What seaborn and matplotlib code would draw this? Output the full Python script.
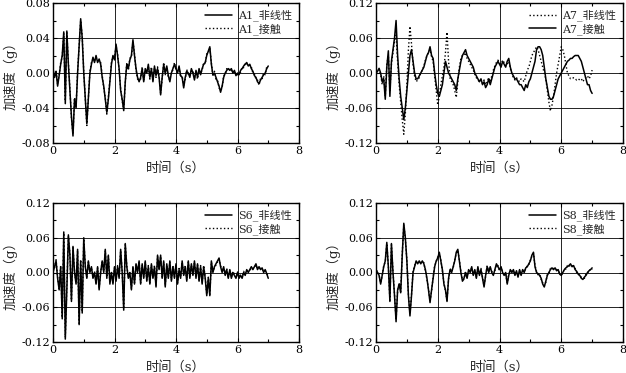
import numpy as np
import pandas as pd
import matplotlib
matplotlib.use("Agg")
import matplotlib.pyplot as plt
import seaborn as sns
from matplotlib.ticker import MultipleLocator, FormatStrFormatter

DT = 0.05

A1_nl = [0.005, -0.005, 0.002, -0.015, -0.003, 0.010, 0.020, 0.047, -0.035, 0.048,
         0.010, -0.020, -0.050, -0.072, -0.030, -0.040, 0.000, 0.030, 0.062, 0.040,
         0.000, -0.030, -0.058, -0.030, 0.000, 0.010, 0.018, 0.012, 0.020, 0.012,
         0.016, 0.010, -0.005, -0.015, -0.030, -0.045, -0.030, -0.010, 0.010, 0.020,
         0.015, 0.033, 0.020, 0.005, -0.020, -0.030, -0.043, -0.010, 0.010, 0.005,
         0.015, 0.020, 0.038, 0.020, 0.005, -0.005, -0.010, -0.005, 0.005, -0.010,
         0.005, 0.000, 0.010, -0.005, 0.005, -0.010, 0.008, -0.003, 0.005, -0.005,
         -0.025, -0.005, 0.010, 0.000, 0.008, -0.003, -0.010, 0.000, 0.005, 0.010,
         0.005, 0.000, 0.008, -0.003, -0.005, -0.017, -0.005, 0.002, 0.000, -0.005,
         0.005, 0.000, -0.008, 0.003, -0.005, 0.005, -0.002, 0.005, 0.010, 0.012,
         0.020, 0.025, 0.030, 0.010, -0.002, 0.000, -0.005, -0.010, -0.015, -0.022,
         -0.015, -0.005, 0.000, 0.003, 0.005, 0.003, 0.005, 0.000, 0.003, -0.003,
         0.000, -0.002, 0.003, 0.005, 0.008, 0.010, 0.012, 0.008, 0.010, 0.005,
         0.002, -0.003, -0.005, -0.010, -0.012, -0.008, -0.005, -0.002, 0.000, 0.005,
         0.008]
A1_ct = [0.004, -0.006, 0.003, -0.013, -0.002, 0.012, 0.018, 0.045, -0.032, 0.046,
         0.012, -0.018, -0.052, -0.070, -0.028, -0.038, 0.002, 0.032, 0.060, 0.042,
         0.002, -0.028, -0.060, -0.028, 0.002, 0.012, 0.016, 0.014, 0.018, 0.014,
         0.014, 0.012, -0.003, -0.017, -0.028, -0.047, -0.028, -0.008, 0.012, 0.018,
         0.017, 0.031, 0.022, 0.003, -0.018, -0.032, -0.041, -0.012, 0.012, 0.003,
         0.017, 0.018, 0.036, 0.022, 0.003, -0.007, -0.008, -0.007, 0.007, -0.008,
         0.003, 0.002, 0.008, -0.007, 0.007, -0.008, 0.006, -0.005, 0.007, -0.003,
         -0.023, -0.007, 0.012, -0.002, 0.006, -0.005, -0.008, 0.002, 0.003, 0.012,
         0.003, 0.002, 0.006, -0.005, -0.003, -0.015, -0.007, 0.004, -0.002, -0.003,
         0.003, 0.002, -0.006, 0.001, -0.007, 0.003, 0.000, 0.003, 0.012, 0.010,
         0.022, 0.023, 0.028, 0.012, -0.004, 0.002, -0.007, -0.008, -0.017, -0.020,
         -0.017, -0.003, -0.002, 0.005, 0.003, 0.005, 0.003, 0.002, 0.001, -0.001,
         -0.002, 0.000, 0.001, 0.007, 0.006, 0.012, 0.010, 0.010, 0.008, 0.007,
         0.000, -0.001, -0.007, -0.008, -0.014, -0.006, -0.007, 0.000, -0.002, 0.007,
         0.006]

A7_nl = [0.000, 0.003, 0.006, -0.002, -0.020, -0.005, -0.040, 0.015, 0.030, -0.030,
         0.015, 0.035, 0.055, 0.065, 0.020, -0.020, -0.050, -0.080, -0.105, -0.070,
         -0.020, 0.040, 0.080, 0.050, 0.015, -0.005, -0.015, -0.012, -0.008, 0.000,
         0.005, 0.012, 0.022, 0.030, 0.035, 0.040, 0.028, 0.020, -0.005, -0.030,
         -0.055, -0.040, -0.020, -0.005, 0.010, 0.035, 0.070, 0.020, -0.010, -0.015,
         -0.020, -0.030, -0.042, -0.015, 0.010, 0.025, 0.030, 0.030, 0.035, 0.025,
         0.020, 0.015, 0.010, 0.005, -0.002, -0.008, -0.012, -0.015, -0.012, -0.018,
         -0.012, -0.020, -0.015, -0.008, -0.015, -0.005, 0.005, 0.012, 0.018, 0.022,
         0.018, 0.012, 0.022, 0.018, 0.012, 0.015, 0.020, 0.008, -0.002, -0.008,
         -0.012, -0.008, -0.012, -0.015, -0.010, -0.012, -0.015, -0.005, 0.005, 0.010,
         0.020, 0.030, 0.035, 0.040, 0.045, 0.040, 0.030, 0.020, 0.010, 0.000,
         -0.010, -0.030, -0.050, -0.065, -0.055, -0.040, -0.020, 0.000, 0.015, 0.030,
         0.045, 0.040, 0.030, 0.015, 0.000, -0.005, -0.010, -0.010, -0.008, -0.010,
         -0.012, -0.010, -0.012, -0.010, -0.015, -0.010, -0.008, -0.005, -0.010, -0.005,
         0.005]
A7_ct = [0.000, 0.003, 0.008, 0.000, -0.015, -0.010, -0.045, 0.010, 0.038, -0.040,
         0.020, 0.040, 0.060, 0.090, 0.030, -0.010, -0.040, -0.060, -0.080, -0.060,
         -0.030, 0.000, 0.030, 0.040, 0.020, 0.000, -0.010, -0.010, -0.005, 0.000,
         0.005, 0.010, 0.020, 0.030, 0.035, 0.045, 0.030, 0.025, 0.000, -0.020,
         -0.035, -0.040, -0.030, -0.020, 0.000, 0.020, 0.010, 0.000, -0.005, -0.010,
         -0.015, -0.020, -0.030, -0.010, 0.005, 0.020, 0.030, 0.035, 0.040, 0.030,
         0.025, 0.020, 0.015, 0.010, 0.000, -0.005, -0.010, -0.015, -0.010, -0.020,
         -0.015, -0.025, -0.020, -0.010, -0.020, -0.010, 0.000, 0.010, 0.015, 0.020,
         0.015, 0.010, 0.020, 0.015, 0.010, 0.020, 0.025, 0.010, 0.000, -0.005,
         -0.010, -0.010, -0.015, -0.020, -0.020, -0.025, -0.030, -0.020, -0.025, -0.015,
         -0.010, 0.000, 0.010, 0.020, 0.040, 0.045, 0.045, 0.040, 0.030, 0.010,
         -0.010, -0.025, -0.040, -0.045, -0.045, -0.040, -0.030, -0.020, -0.010, -0.005,
         0.000, 0.005, 0.010, 0.015, 0.020, 0.022, 0.025, 0.025, 0.028, 0.030,
         0.030, 0.030, 0.025, 0.020, 0.010, 0.000, -0.010, -0.020, -0.020, -0.030,
         -0.035]

S6_nl = [0.000, 0.010, 0.020, -0.010, -0.030, 0.010, -0.080, 0.070, -0.115, -0.030,
         0.065, 0.030, -0.050, 0.045, 0.000, -0.020, 0.040, -0.090, 0.020, -0.070,
         0.060, 0.010, -0.010, 0.020, 0.000, 0.010, -0.010, 0.000, -0.020, 0.010,
         -0.030, 0.000, 0.020, 0.000, 0.040, -0.010, 0.030, -0.020, 0.000, -0.020,
         0.010, -0.015, 0.010, -0.010, 0.040, 0.000, -0.065, 0.050, 0.010, -0.010,
         0.000, -0.030, 0.010, -0.020, 0.015, 0.000, 0.020, -0.020, 0.015, -0.010,
         0.020, -0.015, 0.010, -0.020, 0.015, -0.010, 0.010, -0.025, 0.030, 0.005,
         0.030, -0.010, 0.020, -0.025, 0.015, -0.010, 0.020, -0.015, 0.010, -0.010,
         0.015, -0.020, 0.005, -0.010, 0.020, -0.005, 0.010, -0.015, 0.020, -0.010,
         0.015, -0.005, 0.020, -0.010, 0.015, -0.015, 0.010, -0.020, 0.010, -0.010,
         -0.040, -0.010, -0.040, 0.020, 0.000, 0.010, 0.015, 0.020, 0.025, 0.010,
         0.000, 0.010, -0.005, 0.005, -0.010, 0.005, -0.010, 0.000, -0.005, -0.010,
         0.000, -0.010, -0.005, -0.010, 0.000, -0.005, 0.005, 0.000, 0.005, 0.010,
         0.005, 0.010, 0.015, 0.005, 0.010, 0.005, 0.008, 0.000, 0.005, -0.002,
         -0.010]
S6_ct = [0.002, 0.008, 0.022, -0.008, -0.028, 0.012, -0.078, 0.068, -0.112, -0.028,
         0.062, 0.032, -0.048, 0.043, 0.002, -0.018, 0.038, -0.088, 0.022, -0.068,
         0.058, 0.012, -0.008, 0.018, 0.002, 0.008, -0.008, 0.002, -0.018, 0.008,
         -0.028, 0.002, 0.018, 0.002, 0.038, -0.008, 0.028, -0.018, 0.002, -0.018,
         0.008, -0.013, 0.012, -0.008, 0.038, 0.002, -0.063, 0.048, 0.012, -0.008,
         0.002, -0.028, 0.008, -0.018, 0.013, 0.002, 0.018, -0.018, 0.013, -0.008,
         0.018, -0.013, 0.012, -0.018, 0.013, -0.008, 0.012, -0.023, 0.028, 0.007,
         0.028, -0.008, 0.018, -0.023, 0.013, -0.008, 0.018, -0.013, 0.012, -0.008,
         0.013, -0.018, 0.007, -0.008, 0.018, -0.003, 0.012, -0.013, 0.018, -0.008,
         0.013, -0.003, 0.018, -0.008, 0.013, -0.013, 0.012, -0.018, 0.012, -0.008,
         -0.038, -0.008, -0.038, 0.018, 0.002, 0.008, 0.013, 0.018, 0.023, 0.012,
         0.002, 0.008, -0.003, 0.007, -0.008, 0.003, -0.008, 0.002, -0.003, -0.008,
         0.002, -0.008, -0.003, -0.008, 0.002, -0.003, 0.003, 0.002, 0.003, 0.008,
         0.007, 0.008, 0.013, 0.007, 0.008, 0.007, 0.006, 0.002, 0.003, 0.000,
         -0.008]

S8_nl = [0.005, 0.000, -0.005, -0.020, -0.005, 0.010, 0.020, 0.052, 0.010, -0.050,
         0.050, 0.000, -0.040, -0.085, -0.030, -0.020, -0.035, 0.030, 0.085, 0.060,
         0.020, -0.040, -0.075, -0.040, 0.000, 0.010, 0.020, 0.015, 0.020, 0.015,
         0.020, 0.015, 0.005, -0.010, -0.030, -0.052, -0.030, -0.010, 0.010, 0.020,
         0.025, 0.035, 0.020, 0.005, -0.020, -0.030, -0.050, -0.010, 0.005, 0.000,
         0.010, 0.020, 0.035, 0.040, 0.020, 0.000, -0.015, -0.010, 0.000, -0.010,
         0.005, 0.000, 0.010, -0.005, 0.005, -0.010, 0.010, -0.005, 0.005, -0.010,
         -0.025, -0.005, 0.010, 0.000, 0.010, 0.000, -0.005, 0.005, 0.015, 0.010,
         0.005, 0.010, 0.000, -0.005, 0.000, -0.020, -0.005, 0.005, 0.000, 0.005,
         -0.005, 0.003, -0.008, 0.005, -0.005, 0.005, 0.000, 0.008, 0.010, 0.015,
         0.020, 0.030, 0.035, 0.010, 0.000, -0.002, -0.005, -0.010, -0.020, -0.025,
         -0.015, -0.005, 0.000, 0.005, 0.008, 0.005, 0.008, 0.003, 0.005, -0.003,
         -0.005, 0.000, 0.005, 0.008, 0.010, 0.012, 0.015, 0.010, 0.012, 0.005,
         0.002, -0.003, -0.005, -0.010, -0.012, -0.008, -0.005, 0.000, 0.003, 0.005,
         0.008]
S8_ct = [0.004, 0.002, -0.004, -0.018, -0.006, 0.012, 0.018, 0.050, 0.012, -0.048,
         0.048, 0.002, -0.038, -0.082, -0.032, -0.018, -0.033, 0.032, 0.082, 0.058,
         0.022, -0.038, -0.072, -0.038, 0.002, 0.012, 0.018, 0.017, 0.018, 0.017,
         0.018, 0.017, 0.003, -0.012, -0.028, -0.050, -0.032, -0.008, 0.012, 0.018,
         0.027, 0.033, 0.022, 0.003, -0.018, -0.032, -0.048, -0.012, 0.007, 0.002,
         0.008, 0.022, 0.033, 0.038, 0.022, 0.002, -0.013, -0.012, 0.002, -0.008,
         0.003, 0.002, 0.008, -0.003, 0.003, -0.008, 0.008, -0.003, 0.007, -0.008,
         -0.023, -0.007, 0.012, 0.002, 0.008, 0.002, -0.003, 0.003, 0.013, 0.012,
         0.003, 0.008, 0.002, -0.003, -0.002, -0.018, -0.003, 0.003, 0.002, 0.003,
         -0.003, 0.001, -0.006, 0.003, -0.003, 0.003, 0.002, 0.006, 0.012, 0.013,
         0.022, 0.028, 0.033, 0.012, 0.002, -0.004, -0.003, -0.012, -0.018, -0.023,
         -0.017, -0.003, -0.002, 0.007, 0.006, 0.007, 0.006, 0.005, 0.003, -0.001,
         -0.003, -0.002, 0.007, 0.006, 0.012, 0.010, 0.013, 0.012, 0.010, 0.007,
         0.000, -0.001, -0.007, -0.008, -0.010, -0.010, -0.003, -0.002, 0.005, 0.003,
         0.006]

XLABEL = "时间（s）"
YLABEL = "加速度（g）"

sns.set_theme(style="ticks")
plt.rcParams["font.family"] = ["DejaVu Serif", "Noto Sans CJK SC"]
plt.rcParams["axes.unicode_minus"] = False

fig = plt.figure(figsize=(6.26, 3.73), dpi=100)

W = 246 / 626
H_top = 140 / 373
H_bot = 139 / 373
positions = [
    [53 / 626, (373 - 143) / 373, W, H_top],
    [376 / 626, (373 - 143) / 373, 247 / 626, H_top],
    [53 / 626, (373 - 342) / 373, W, H_bot],
    [376 / 626, (373 - 342) / 373, 247 / 626, H_bot],
]

panels = [
    # (first series, first label, first style, second series, second label, second style, ylim, ystep)
    (A1_nl, "A1_非线性", "-", A1_ct, "A1_接触", ":", 0.08, 0.04),
    (A7_nl, "A7_非线性", ":", A7_ct, "A7_接触", "-", 0.12, 0.06),
    (S6_nl, "S6_非线性", "-", S6_ct, "S6_接触", ":", 0.12, 0.06),
    (S8_nl, "S8_非线性", "-", S8_ct, "S8_接触", ":", 0.12, 0.06),
]

for pos, (s1, l1, ls1, s2, l2, ls2, ylim, ystep) in zip(positions, panels):
    ax = fig.add_axes(pos)
    t = np.round(np.arange(len(s1)) * DT, 3)
    df = pd.DataFrame({"t": t, "a1": s1, "a2": s2})
    # draw the dotted one underneath the solid one
    order = [("a1", l1, ls1), ("a2", l2, ls2)]
    for col, lab, ls in sorted(order, key=lambda o: 0 if o[2] == ":" else 1):
        sns.lineplot(data=df, x="t", y=col, ax=ax, color="black",
                     linewidth=1.1 if ls == "-" else 1.0, linestyle=ls,
                     label=lab, legend=False, zorder=3 if ls == "-" else 2)
    ax.set_xlim(0, 8)
    ax.set_ylim(-ylim, ylim)
    ax.xaxis.set_major_locator(MultipleLocator(2))
    ax.xaxis.set_minor_locator(MultipleLocator(1))
    ax.yaxis.set_major_locator(MultipleLocator(ystep))
    ax.yaxis.set_minor_locator(MultipleLocator(ystep / 2))
    ax.yaxis.set_major_formatter(FormatStrFormatter("%.2f"))
    ax.grid(True, which="major", color="black", linewidth=0.6)
    ax.tick_params(which="both", direction="in", top=True, right=True,
                   labelsize=8, pad=2, colors="black")
    ax.tick_params(which="major", length=3, width=0.8)
    ax.tick_params(which="minor", length=2, width=0.8)
    for sp in ax.spines.values():
        sp.set_linewidth(1.0)
        sp.set_color("black")
    ax.set_xlabel(XLABEL, fontsize=9.5, labelpad=4)
    ax.set_ylabel(YLABEL, fontsize=9.5, labelpad=3)
    handles, labels = ax.get_legend_handles_labels()
    lab_order = [l1, l2]
    hmap = dict(zip(labels, handles))
    ax.legend([hmap[l] for l in lab_order], lab_order, loc="upper right",
              frameon=False, fontsize=8, handlelength=2.4, handletextpad=0.6,
              borderaxespad=0.2, labelspacing=0.15)

fig.savefig("out.png", dpi=100)
